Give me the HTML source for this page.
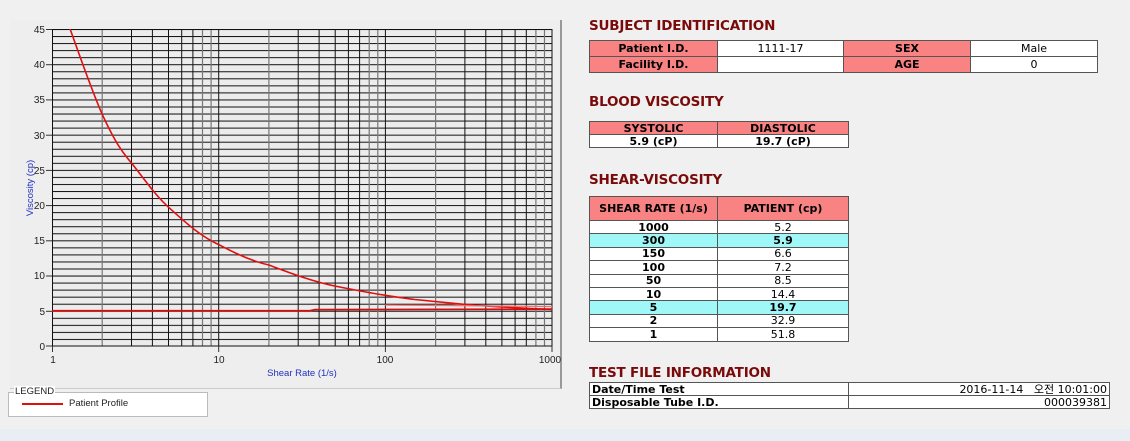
<!DOCTYPE html>
<html><head><meta charset="utf-8"><style>
body{margin:0;width:1130px;height:441px;background:#f0f0f0;position:relative;overflow:hidden;font-family:"DejaVu Sans","Noto Sans CJK KR",sans-serif}
.a{position:absolute}
h2{position:absolute;margin:0;font:bold 13.5px "DejaVu Sans",sans-serif;color:#7a0a0a;letter-spacing:-0.2px}
.g{position:absolute;display:grid;gap:1px;background:#555;border:1px solid #555;font-size:11px;color:#000}
.g div{display:flex;align-items:center;justify-content:center;overflow:hidden;white-space:nowrap}
.p{background:#f98282;font-weight:bold}
.w{background:#fff}
.c{background:#a0f7f7;font-weight:bold}
.b{font-weight:bold}
.g div.l{justify-content:flex-start;padding-left:2px}
.g div.r{justify-content:flex-end;padding-right:2px}
</style></head><body>
<div class="a" style="left:0;top:429px;width:1130px;height:12px;background:#e9eef4"></div>
<div class="a" style="left:10px;top:20px;width:550px;height:368px;background:#eeeeee;border-right:2px solid #999;border-bottom:1px solid #ccc"></div>
<svg class="a" style="left:0;top:0" width="570" height="390">
<defs><pattern id="h" patternUnits="userSpaceOnUse" x="0" y="29" width="10" height="7.044"><line x1="0" y1="0.5" x2="10" y2="0.5" stroke="#111" stroke-width="1"/></pattern></defs>
<rect x="52" y="29" width="500" height="317" fill="#ececec"/>
<rect x="52" y="29" width="500" height="317" fill="url(#h)"/>
<g stroke="#111" stroke-width="1">
<line x1="131.5" y1="29" x2="131.5" y2="346"/><line x1="152.4" y1="29" x2="152.4" y2="346"/><line x1="168.5" y1="29" x2="168.5" y2="346"/><line x1="181.7" y1="29" x2="181.7" y2="346"/><line x1="192.9" y1="29" x2="192.9" y2="346"/><line x1="218.7" y1="29" x2="218.7" y2="346"/>
<line x1="298.2" y1="29" x2="298.2" y2="346"/><line x1="319.1" y1="29" x2="319.1" y2="346"/><line x1="335.2" y1="29" x2="335.2" y2="346"/><line x1="348.4" y1="29" x2="348.4" y2="346"/><line x1="359.6" y1="29" x2="359.6" y2="346"/><line x1="385.4" y1="29" x2="385.4" y2="346"/>
<line x1="464.9" y1="29" x2="464.9" y2="346"/><line x1="485.8" y1="29" x2="485.8" y2="346"/><line x1="501.9" y1="29" x2="501.9" y2="346"/><line x1="515.1" y1="29" x2="515.1" y2="346"/><line x1="526.3" y1="29" x2="526.3" y2="346"/>
</g>
<g stroke="#777" stroke-width="1.2">
<line x1="102.2" y1="29" x2="102.2" y2="346"/><line x1="202.5" y1="29" x2="202.5" y2="346"/><line x1="211.1" y1="29" x2="211.1" y2="346"/>
<line x1="268.9" y1="29" x2="268.9" y2="346"/><line x1="369.2" y1="29" x2="369.2" y2="346"/><line x1="377.8" y1="29" x2="377.8" y2="346"/>
<line x1="435.6" y1="29" x2="435.6" y2="346"/><line x1="535.9" y1="29" x2="535.9" y2="346"/><line x1="544.5" y1="29" x2="544.5" y2="346"/>
</g>
<rect x="52.5" y="29.5" width="499.5" height="316.5" fill="none" stroke="#111"/>
<g stroke="#333"><line x1="46" y1="29.5" x2="52" y2="29.5"/><line x1="46" y1="64.7" x2="52" y2="64.7"/><line x1="46" y1="99.9" x2="52" y2="99.9"/><line x1="46" y1="135.2" x2="52" y2="135.2"/><line x1="46" y1="170.4" x2="52" y2="170.4"/><line x1="46" y1="205.6" x2="52" y2="205.6"/><line x1="46" y1="240.8" x2="52" y2="240.8"/><line x1="46" y1="276" x2="52" y2="276"/><line x1="46" y1="311.3" x2="52" y2="311.3"/><line x1="46" y1="346" x2="52" y2="346"/>
<line x1="52.5" y1="346" x2="52.5" y2="352"/><line x1="218.7" y1="346" x2="218.7" y2="352"/><line x1="385.4" y1="346" x2="385.4" y2="352"/><line x1="552" y1="346" x2="552" y2="352"/></g>
<g font-family="Liberation Sans,sans-serif" font-size="10" fill="#222" text-anchor="end">
<text x="45" y="33">45</text><text x="45" y="68">40</text><text x="45" y="103">35</text><text x="45" y="139">30</text><text x="45" y="174">25</text><text x="45" y="209">20</text><text x="45" y="244">15</text><text x="45" y="279">10</text><text x="45" y="315">5</text><text x="45" y="350">0</text>
</g>
<g font-family="Liberation Sans,sans-serif" font-size="10" fill="#222" text-anchor="middle">
<text x="53" y="363">1</text><text x="219" y="363">10</text><text x="385" y="363">100</text><text x="550" y="363">1000</text>
</g>
<text x="302" y="376" font-family="Liberation Sans,sans-serif" font-size="9.5" fill="#2030c0" text-anchor="middle">Shear Rate (1/s)</text>
<text transform="translate(33,188) rotate(-90)" font-family="Liberation Sans,sans-serif" font-size="9.5" fill="#2030c0" text-anchor="middle">Viscosity (cp)</text>
<clipPath id="cp"><rect x="52" y="29" width="500" height="317"/></clipPath>
<g clip-path="url(#cp)" fill="none">
<path d="M52,-18.9 C70,25 85,75 102.2,114.3 C115,142 122,152 131.5,163 C145,180 155,195 168.5,207.2 C185,222 200,236 218.7,244.6 C240,256 255,262 268.9,265 C295,275 315,282 335.2,286.1 C355,290 370,293 385.4,295.3 C400,297.5 407,298.5 414.8,299.5 C440,302 450,303 464.9,304.4 C500,307 525,308.5 552,309.4" stroke="#e01010" stroke-width="1.6"/>
<path d="M52,310.8 L310,310.8 L315,309.6 L552,309.2" stroke="#d01010" stroke-width="1.8"/>
<path d="M385,305 L552,306.5" stroke="#f07070" stroke-width="1.2"/>
</g>
</svg>
<div class="a" style="left:8px;top:392px;width:198px;height:23px;background:#fff;border:1px solid #bbb"></div>
<div class="a" style="left:14px;top:386px;font:9.5px 'Liberation Sans',sans-serif;background:#fff;padding:0 1px;color:#222">LEGEND</div>
<div class="a" style="left:22px;top:403px;width:41px;height:2px;background:#e01010"></div>
<div class="a" style="left:69px;top:398px;font:9.5px 'Liberation Sans',sans-serif;color:#222">Patient Profile</div>

<h2 style="left:589px;top:18px">SUBJECT IDENTIFICATION</h2>
<div class="g" style="left:589px;top:40px;width:507px;grid-template-columns:127px 125px 126px 1fr;grid-template-rows:15px 15px">
<div class="p">Patient I.D.</div><div class="w">1111-17</div><div class="p">SEX</div><div class="w">Male</div>
<div class="p">Facility I.D.</div><div class="w"></div><div class="p">AGE</div><div class="w">0</div>
</div>
<h2 style="left:589px;top:94px">BLOOD VISCOSITY</h2>
<div class="g" style="left:589px;top:121px;width:258px;grid-template-columns:127px 1fr;grid-template-rows:12px 12px">
<div class="p">SYSTOLIC</div><div class="p">DIASTOLIC</div>
<div class="w b">5.9 (cP)</div><div class="w b">19.7 (cP)</div>
</div>
<h2 style="left:589px;top:172px">SHEAR-VISCOSITY</h2>
<div class="g" style="left:589px;top:196px;width:258px;grid-template-columns:127px 1fr;grid-template-rows:23px repeat(9,12.4px)">
<div class="p">SHEAR RATE (1/s)</div><div class="p">PATIENT (cp)</div>
<div class="w b">1000</div><div class="w">5.2</div>
<div class="c">300</div><div class="c">5.9</div>
<div class="w b">150</div><div class="w">6.6</div>
<div class="w b">100</div><div class="w">7.2</div>
<div class="w b">50</div><div class="w">8.5</div>
<div class="w b">10</div><div class="w">14.4</div>
<div class="c">5</div><div class="c">19.7</div>
<div class="w b">2</div><div class="w">32.9</div>
<div class="w b">1</div><div class="w">51.8</div>
</div>
<h2 style="left:589px;top:365px">TEST FILE INFORMATION</h2>
<div class="g" style="left:589px;top:382px;width:519px;grid-template-columns:258px 1fr;grid-template-rows:12px 12px">
<div class="w b l">Date/Time Test</div><div class="w r">2016-11-14&nbsp;&nbsp; 오전 10:01:00</div>
<div class="w b l">Disposable Tube I.D.</div><div class="w r">000039381</div>
</div>
</body></html>
